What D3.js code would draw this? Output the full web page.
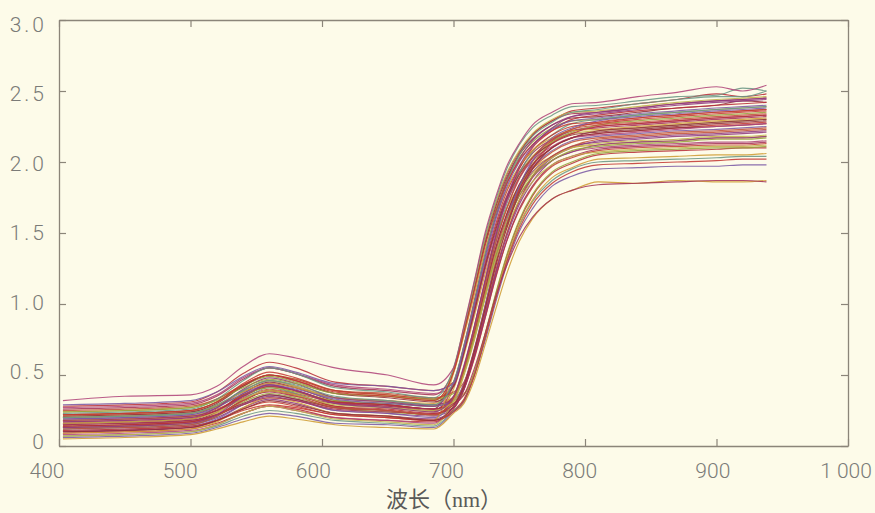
<!DOCTYPE html>
<html>
<head>
<meta charset="utf-8">
<script src="https://cdn.jsdelivr.net/npm/d3@7"></script>
<style>
  html, body { margin: 0; padding: 0; background: #fdfbe9; }
  svg { display: block; }
</style>
</head>
<body>
<svg id="chart" width="875" height="513"></svg>
<script>
// Sampled wavelengths (nm) shared by every reflectance spectrum
const wavelengths = [403, 450, 500, 520, 540, 560, 580, 610, 650, 685,
                     700, 708, 716, 724, 732, 740, 750, 760, 775, 790,
                     810, 840, 870, 900, 920, 938];

// Canopy reflectance spectra, one row per sample, values at the wavelengths above
const spectra = [
  [.17,.18,.20,.25,.35,.42,.39,.31,.29,.26, .33,.53,.80,1.10,1.39,1.62,1.84,1.98,2.10,2.17, 2.20,2.22,2.24,2.26,2.27,2.28],
  [.12,.13,.15,.20,.29,.35,.32,.25,.23,.21, .27,.41,.64,.93,1.22,1.48,1.72,1.89,2.03,2.10, 2.15,2.17,2.19,2.20,2.21,2.22],
  [.22,.23,.25,.31,.42,.49,.45,.37,.35,.32, .52,.80,1.11,1.42,1.66,1.86,2.03,2.14,2.24,2.29, 2.30,2.33,2.35,2.37,2.38,2.39],
  [.09,.10,.12,.16,.23,.28,.26,.20,.18,.17, .25,.33,.52,.78,1.06,1.32,1.58,1.76,1.92,1.99, 2.05,2.07,2.08,2.09,2.10,2.10],
  [.20,.21,.23,.28,.38,.44,.41,.34,.31,.29, .34,.54,.82,1.13,1.42,1.66,1.88,2.03,2.15,2.22, 2.25,2.27,2.29,2.31,2.32,2.33],
  [.14,.15,.17,.23,.35,.42,.38,.30,.27,.24, .40,.64,.92,1.21,1.46,1.66,1.83,1.95,2.04,2.10, 2.12,2.14,2.15,2.17,2.17,2.18],
  [.26,.27,.29,.35,.47,.55,.51,.42,.39,.36, .53,.82,1.13,1.45,1.70,1.90,2.07,2.19,2.29,2.34, 2.35,2.38,2.41,2.43,2.44,2.45],
  [.07,.08,.10,.14,.21,.25,.23,.18,.16,.14, .25,.32,.51,.76,1.04,1.29,1.55,1.72,1.87,1.95, 2.00,2.01,2.02,2.03,2.04,2.04],
  [.18,.19,.21,.26,.34,.40,.37,.31,.29,.26, .30,.44,.68,.98,1.30,1.56,1.82,2.00,2.15,2.23, 2.28,2.31,2.33,2.35,2.36,2.37],
  [.11,.12,.14,.19,.29,.36,.33,.25,.23,.20, .33,.53,.79,1.09,1.38,1.61,1.82,1.96,2.08,2.15, 2.18,2.20,2.22,2.23,2.24,2.25],
  [.24,.25,.27,.33,.43,.50,.47,.39,.36,.33, .42,.67,.96,1.26,1.52,1.74,1.92,2.04,2.14,2.20, 2.22,2.24,2.26,2.28,2.29,2.30],
  [.15,.16,.18,.24,.37,.45,.41,.32,.29,.26, .53,.81,1.12,1.43,1.68,1.88,2.05,2.16,2.26,2.31, 2.32,2.35,2.38,2.40,2.43,2.42],
  [.10,.11,.13,.18,.26,.31,.28,.22,.20,.18, .26,.40,.62,.90,1.18,1.43,1.66,1.82,1.97,2.03, 2.08,2.10,2.11,2.12,2.12,2.13],
  [.19,.20,.22,.28,.39,.46,.42,.34,.32,.29, .33,.52,.78,1.07,1.35,1.58,1.79,1.93,2.04,2.11, 2.14,2.16,2.18,2.19,2.20,2.21],
  [.13,.14,.16,.21,.31,.37,.34,.27,.24,.22, .29,.43,.68,.98,1.28,1.55,1.81,1.98,2.14,2.21, 2.26,2.29,2.31,2.33,2.34,2.35],
  [.28,.29,.31,.38,.51,.59,.55,.45,.42,.39, .45,.71,1.03,1.35,1.63,1.86,2.06,2.19,2.29,2.36, 2.38,2.41,2.44,2.48,2.46,2.48],
  [.08,.09,.11,.15,.23,.28,.25,.20,.18,.16, .32,.51,.76,1.05,1.33,1.55,1.76,1.89,2.01,2.07, 2.10,2.12,2.13,2.14,2.14,2.15],
  [.21,.22,.24,.29,.38,.44,.41,.34,.32,.30, .34,.37,.51,.77,1.05,1.30,1.56,1.73,1.89,1.96, 2.02,2.03,2.04,2.05,2.05,2.06],
  [.16,.17,.19,.25,.35,.42,.39,.31,.28,.25, .43,.67,.97,1.27,1.54,1.75,1.93,2.06,2.16,2.22, 2.24,2.26,2.28,2.30,2.31,2.32],
  [.12,.13,.15,.21,.33,.41,.37,.28,.25,.22, .34,.55,.84,1.15,1.45,1.69,1.92,2.07,2.19,2.27, 2.30,2.33,2.35,2.37,2.38,2.39],
  [.25,.26,.28,.33,.43,.50,.47,.39,.37,.34, .38,.45,.65,.93,1.23,1.48,1.73,1.90,2.04,2.11, 2.16,2.18,2.20,2.21,2.22,2.23],
  [.06,.07,.09,.13,.19,.23,.21,.16,.15,.13, .24,.31,.50,.74,1.01,1.26,1.51,1.67,1.83,1.90, 1.95,1.96,1.97,1.97,1.98,1.98],
  [.18,.19,.21,.27,.39,.46,.42,.34,.31,.28, .54,.83,1.14,1.46,1.71,1.91,2.08,2.20,2.30,2.35, 2.36,2.39,2.42,2.44,2.45,2.46],
  [.14,.15,.17,.22,.30,.36,.33,.27,.25,.22, .33,.53,.80,1.10,1.39,1.62,1.84,1.98,2.10,2.17, 2.20,2.22,2.24,2.25,2.26,2.27],
  [.22,.23,.25,.31,.44,.52,.48,.39,.36,.33, .43,.68,.98,1.29,1.56,1.78,1.96,2.08,2.19,2.25, 2.27,2.30,2.32,2.34,2.35,2.36],
  [.10,.11,.13,.18,.27,.33,.30,.23,.21,.19, .27,.40,.64,.92,1.21,1.46,1.70,1.86,2.01,2.07, 2.12,2.14,2.15,2.17,2.17,2.18],
  [.20,.21,.23,.28,.36,.41,.38,.32,.30,.28, .32,.36,.52,.79,1.07,1.33,1.59,1.77,1.93,2.00, 2.06,2.08,2.09,2.10,2.10,2.11],
  [.16,.17,.19,.25,.36,.43,.39,.31,.29,.26, .35,.56,.85,1.16,1.47,1.72,1.95,2.10,2.22,2.30, 2.33,2.36,2.38,2.40,2.41,2.42],
  [.27,.28,.30,.36,.48,.55,.51,.43,.40,.37, .42,.66,.95,1.24,1.50,1.71,1.89,2.01,2.11,2.17, 2.19,2.21,2.23,2.25,2.26,2.27],
  [.09,.10,.12,.17,.27,.34,.31,.23,.21,.18, .51,.78,1.07,1.38,1.61,1.80,1.97,2.08,2.17,2.22, 2.23,2.25,2.27,2.29,2.30,2.31],
  [.15,.16,.18,.22,.29,.34,.32,.26,.24,.23, .27,.40,.63,.90,1.19,1.43,1.67,1.83,1.98,2.04, 2.09,2.11,2.12,2.13,2.13,2.14],
  [.23,.24,.26,.33,.46,.55,.51,.41,.38,.34, .55,.84,1.16,1.48,1.73,1.94,2.12,2.24,2.33,2.39, 2.40,2.43,2.46,2.47,2.52,2.50],
  [.13,.14,.16,.22,.32,.39,.36,.28,.25,.22, .33,.52,.79,1.08,1.37,1.60,1.81,1.95,2.07,2.14, 2.17,2.19,2.21,2.22,2.23,2.24],
  [.19,.20,.22,.27,.37,.43,.40,.33,.30,.28, .32,.44,.69,.99,1.30,1.57,1.83,2.01,2.17,2.24, 2.29,2.32,2.34,2.36,2.37,2.38],
  [.07,.08,.10,.15,.23,.28,.25,.19,.17,.15, .32,.51,.77,1.06,1.35,1.57,1.78,1.92,2.03,2.10, 2.13,2.15,2.16,2.18,2.18,2.19],
  [.21,.22,.24,.30,.42,.50,.46,.37,.34,.31, .42,.66,.95,1.26,1.52,1.73,1.91,2.03,2.13,2.19, 2.21,2.23,2.25,2.27,2.28,2.29],
  [.11,.12,.14,.18,.25,.29,.27,.22,.20,.18, .24,.32,.50,.76,1.03,1.28,1.53,1.70,1.85,1.93, 1.98,1.99,2.00,2.01,2.02,2.02],
  [.17,.18,.20,.27,.40,.48,.44,.34,.31,.28, .45,.70,1.01,1.33,1.61,1.83,2.02,2.15,2.26,2.32, 2.34,2.37,2.40,2.42,2.43,2.44],
  [.24,.25,.27,.32,.41,.47,.44,.37,.35,.33, .37,.53,.77,1.05,1.33,1.55,1.76,1.90,2.01,2.08, 2.11,2.13,2.14,2.16,2.16,2.17],
  [.14,.15,.17,.22,.32,.39,.36,.28,.26,.23, .29,.43,.68,.97,1.28,1.54,1.80,1.97,2.13,2.20, 2.25,2.27,2.29,2.31,2.32,2.33],
  [.32,.35,.36,.42,.56,.65,.62,.55,.50,.43, .55,.85,1.17,1.50,1.75,1.96,2.13,2.26,2.35,2.41, 2.42,2.46,2.49,2.53,2.50,2.54],
  [.05,.06,.08,.12,.17,.21,.19,.15,.13,.12, .23,.30,.47,.71,.96,1.20,1.44,1.60,1.74,1.80, 1.86,1.85,1.87,1.86,1.86,1.87],
  [.18,.19,.21,.25,.33,.38,.35,.30,.28,.26, .30,.36,.55,.79,1.05,1.26,1.47,1.61,1.74,1.80, 1.84,1.85,1.86,1.87,1.87,1.86],
  [.20,.21,.23,.29,.39,.46,.43,.35,.32,.29, .45,.71,1.02,1.35,1.63,1.85,2.05,2.18,2.28,2.35, 2.37,2.41,2.44,2.46,2.46,2.50],
  [.12,.13,.15,.21,.32,.39,.35,.27,.25,.22, .34,.54,.82,1.13,1.43,1.66,1.89,2.03,2.16,2.23, 2.26,2.28,2.30,2.32,2.33,2.34],
  [.29,.30,.32,.38,.49,.56,.52,.44,.42,.39, .44,.69,1.00,1.31,1.59,1.81,2.00,2.12,2.23,2.29, 2.31,2.34,2.36,2.38,2.39,2.40],
  [.16,.17,.19,.24,.33,.39,.36,.29,.27,.25, .31,.50,.75,1.04,1.31,1.52,1.73,1.86,1.98,2.04, 2.07,2.09,2.10,2.11,2.11,2.12],
  [.10,.11,.13,.18,.26,.32,.29,.23,.21,.18, .28,.42,.67,.96,1.26,1.52,1.78,1.95,2.10,2.17, 2.22,2.24,2.26,2.28,2.29,2.30],
  [.22,.23,.25,.31,.43,.50,.46,.38,.35,.32, .52,.80,1.10,1.41,1.65,1.84,2.01,2.12,2.22,2.27, 2.28,2.31,2.33,2.35,2.36,2.37],
  [.13,.14,.16,.22,.35,.43,.39,.30,.27,.24, .35,.57,.85,1.17,1.48,1.73,1.97,2.11,2.24,2.32, 2.35,2.38,2.41,2.43,2.44,2.45]
];

// Axis ticks and their printed labels
const xTicks = [400, 500, 600, 700, 800, 900, 1000];
const xTickLabels = ["400", "500", "600", "700", "800", "900", "1 000"];
const yTicks = [0, 0.5, 1.0, 1.5, 2.0, 2.5, 3.0];
const yTickLabels = ["0", "0.5", "1.0", "1.5", "2.0", "2.5", "3.0"];
const xTitle = "波长（nm）";

// Line colours, cycled over the spectra
const lineColors = ["#c43a34", "#8f3a80", "#97a03b", "#b8303a", "#b0457a", "#cf9c33",
                    "#a43358", "#6b9684", "#c0503a", "#7b5aa4", "#bfb04a", "#92303e"];

const svg = d3.select("#chart");
const W = 875, H = 513;
const margin = { left: 59, right: 27, top: 20, bottom: 67 };
const x0 = margin.left, x1 = W - margin.right, y0 = H - margin.bottom, y1 = margin.top;

const x = d3.scaleLinear().domain([400, 1000]).range([x0, x1]);
const y = d3.scaleLinear().domain([0, 3]).range([y0, y1]);
// label placement follows the printed layout, which sits slightly off the ticks
const xLab = d3.scaleLinear().domain([400, 1000]).range([47, 846]);
const yLab = d3.scaleLinear().domain([0, 3]).range([441, 24]);

const frameColor = "#8b8579";

// spectra
const line = d3.line()
  .x((d, i) => x(wavelengths[i]))
  .y(d => y(d))
  .curve(d3.curveMonotoneX);

svg.append("clipPath").attr("id", "plotclip")
  .append("rect").attr("x", x0).attr("y", y1).attr("width", x1 - x0).attr("height", y0 - y1);

svg.append("g").attr("clip-path", "url(#plotclip)")
  .selectAll("path").data(spectra).join("path")
  .attr("d", line)
  .attr("fill", "none")
  .attr("stroke", (d, i) => lineColors[i % lineColors.length])
  .attr("stroke-width", 1.15)
  .attr("stroke-opacity", 0.88);

// frame with inward ticks on all four sides
function styleAxis(g) {
  g.selectAll("path.domain").attr("stroke", frameColor).attr("stroke-width", 1.3);
  g.selectAll(".tick line").attr("stroke", frameColor).attr("stroke-width", 1.2);
  g.selectAll(".tick text").remove();
}
svg.append("g").attr("transform", `translate(0,${y0})`)
  .call(d3.axisBottom(x).tickValues(xTicks).tickSizeInner(-7).tickSizeOuter(0)).call(styleAxis);
svg.append("g").attr("transform", `translate(0,${y1})`)
  .call(d3.axisTop(x).tickValues(xTicks).tickSizeInner(-7).tickSizeOuter(0)).call(styleAxis);
svg.append("g").attr("transform", `translate(${x0},0)`)
  .call(d3.axisLeft(y).tickValues(yTicks).tickSizeInner(-7).tickSizeOuter(0)).call(styleAxis);
svg.append("g").attr("transform", `translate(${x1},0)`)
  .call(d3.axisRight(y).tickValues(yTicks).tickSizeInner(-7).tickSizeOuter(0)).call(styleAxis);

// tick labels
const labelFont = "Roboto, 'Liberation Sans', sans-serif";
svg.append("g").selectAll("text").data(xTicks).join("text")
  .attr("x", d => xLab(d))
  .attr("y", 478)
  .attr("text-anchor", "middle")
  .attr("font-family", labelFont)
  .attr("font-weight", 300)
  .attr("font-size", 21)
  .attr("fill", "#7b7b78")
  .text((d, i) => xTickLabels[i]);

svg.append("g").selectAll("text").data(yTicks).join("text")
  .attr("x", 47)
  .attr("y", d => yLab(d))
  .attr("dy", "0.36em")
  .attr("text-anchor", "end")
  .attr("font-family", labelFont)
  .attr("font-weight", 300)
  .attr("font-size", 21)
  .attr("letter-spacing", 3)
  .attr("fill", "#7b7b78")
  .text((d, i) => yTickLabels[i]);

// axis title
svg.append("text")
  .attr("x", 444)
  .attr("y", 507)
  .attr("text-anchor", "middle")
  .attr("font-family", "'Liberation Serif', 'Noto Sans CJK SC', serif")
  .attr("font-size", 22)
  .attr("fill", "#5a5a58")
  .text(xTitle);
</script>
</body>
</html>
